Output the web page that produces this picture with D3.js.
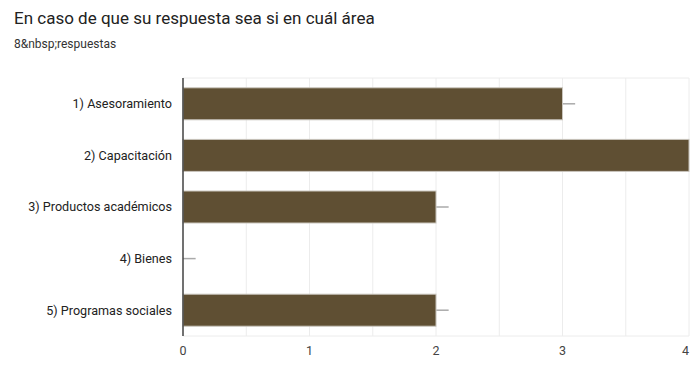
<!DOCTYPE html>
<html>
<head>
<meta charset="utf-8">
<script src="https://cdn.jsdelivr.net/npm/d3@7"></script>
<style>
  body { margin: 0; background: #fff; }
  svg { display: block; font-family: Roboto, "Liberation Sans", Arial, sans-serif; }
</style>
</head>
<body>
<svg id="chart" width="692" height="365"></svg>
<script>
const categories = ['1) Asesoramiento', '2) Capacitación', '3) Productos académicos', '4) Bienes', '5) Programas sociales']
const values = [3, 4, 2, 0, 2]
const xTicks = [0, 1, 2, 3, 4]
const title = 'En caso de que su respuesta sea si en cuál área'
const subtitle = '8&nbsp;respuestas'

const svg = d3.select('#chart')
const margin = { top: 78, right: 3, bottom: 29, left: 183 }
const width = 692, height = 365
const innerW = width - margin.left - margin.right
const innerH = height - margin.top - margin.bottom

// title and subtitle
svg.append('text')
    .attr('x', 14).attr('y', 24)
    .style('font-size', '17px').style('fill', '#222')
    .text(title)
svg.append('text')
    .attr('x', 14).attr('y', 48)
    .style('font-size', '12px').style('fill', '#333')
    .text(subtitle)

const g = svg.append('g').attr('transform', `translate(${margin.left},${margin.top})`)

const x = d3.scaleLinear().domain([0, 4]).range([0, innerW])
const y = d3.scaleBand().domain(categories).range([0, innerH]).paddingInner(0.38).paddingOuter(0.19)

// gridlines at half steps
g.append('g')
    .selectAll('line')
    .data(d3.range(0, 4.01, 0.5))
    .join('line')
    .attr('x1', d => x(d)).attr('x2', d => x(d))
    .attr('y1', 0).attr('y2', innerH)
    .style('stroke', '#ececec')
g.append('line').attr('x1', 0).attr('x2', innerW).attr('y1', 0).attr('y2', 0).style('stroke', '#ececec')
g.append('line').attr('x1', 0).attr('x2', innerW).attr('y1', innerH).attr('y2', innerH).style('stroke', '#ececec')

// whiskers
g.append('g')
    .selectAll('line')
    .data(values)
    .join('line')
    .attr('x1', d => x(d)).attr('x2', d => Math.min(x(d + 0.1), innerW))
    .attr('y1', (d, i) => y(categories[i]) + y.bandwidth() / 2)
    .attr('y2', (d, i) => y(categories[i]) + y.bandwidth() / 2)
    .style('stroke', '#aaa').style('stroke-width', 1.5)

// bars
g.append('g')
    .selectAll('rect')
    .data(values)
    .join('rect')
    .attr('x', 0)
    .attr('y', (d, i) => y(categories[i]))
    .attr('width', d => x(d))
    .attr('height', y.bandwidth())
    .style('fill', '#5f4f33')
    .style('stroke', '#c9c5bd').style('stroke-width', 1)

// y axis line
g.append('line').attr('x1', 0).attr('x2', 0).attr('y1', 0).attr('y2', innerH)
    .style('stroke', '#444').style('stroke-width', 1.5)

// category labels
g.append('g')
    .selectAll('text')
    .data(categories)
    .join('text')
    .attr('x', -11)
    .attr('y', d => y(d) + y.bandwidth() / 2)
    .attr('dy', '0.35em')
    .attr('text-anchor', 'end')
    .style('font-size', '12.6px').style('fill', '#222')
    .text(d => d)

// x tick labels
g.append('g')
    .selectAll('text')
    .data(xTicks)
    .join('text')
    .attr('x', d => x(d))
    .attr('y', innerH + 19)
    .attr('text-anchor', d => d === 4 ? 'end' : 'middle')
    .style('font-size', '12.5px').style('fill', '#444')
    .text(d => d)
</script>
</body>
</html>
